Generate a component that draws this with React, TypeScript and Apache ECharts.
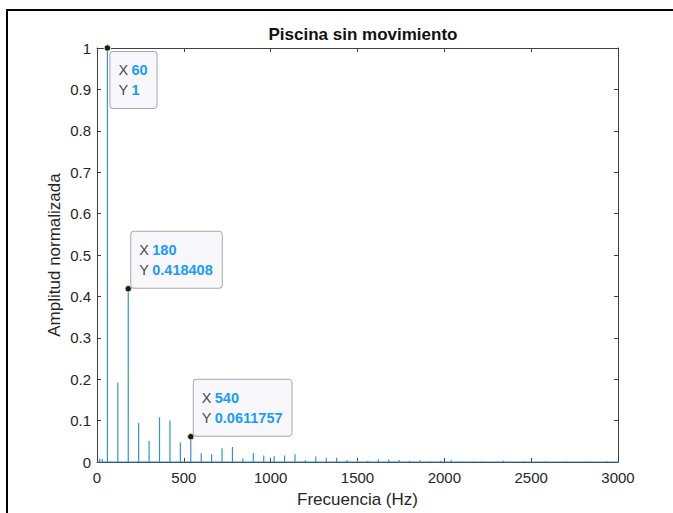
import React, { useEffect, useRef } from "react";
import * as echarts from "echarts";

// Spectrum peaks (frequency in Hz, normalized amplitude)
const peakFreqs = [
  15, 30, 60, 120, 180, 240, 300, 360, 420, 480, 540, 600, 660, 720, 780, 840, 900, 960,
  1020, 1080, 1140, 1200, 1260, 1320, 1380, 1440, 1500, 1560, 1620, 1680, 1740, 1800,
  1860, 1920, 1980, 2040, 2100, 2160, 2220, 2340, 2460, 2580, 2700, 2820, 2940,
];
const peakAmps = [
  0.008, 0.007, 1, 0.192, 0.418408, 0.094, 0.051, 0.108, 0.1, 0.047, 0.0611757, 0.021,
  0.019, 0.033, 0.036, 0.009, 0.022, 0.016, 0.014, 0.016, 0.019, 0.004, 0.013, 0.01, 0.01,
  0.005, 0.004, 0.003, 0.006, 0.006, 0.005, 0.003, 0.004, 0.002, 0.003, 0.004, 0.002,
  0.002, 0.002, 0.003, 0.002, 0.002, 0.002, 0.002, 0.002,
];

// Data tips
const tipX = [60, 180, 540];
const tipY = [1, 0.418408, 0.0611757];
const tipSide = ["below", "above", "above"];

const xTicks = { min: 0, max: 3000, interval: 500 };
const yTicks = { min: 0, max: 1, interval: 0.1 };

const FONT = "'Liberation Sans', Arial, Helvetica, sans-serif";
const AXIS_COLOR = "#404040";
const TEXT_COLOR = "#262626";

export default function App() {
  const ref = useRef<HTMLDivElement>(null);

  useEffect(() => {
    document.body.style.margin = "0";
    if (!ref.current) return;
    const chart = echarts.init(ref.current, null, { renderer: "svg" });

    // Spike trace: baseline with a vertical excursion at each peak
    const trace: number[][] = [[xTicks.min, 0]];
    peakFreqs.forEach((f, i) => {
      trace.push([f, 0], [f, peakAmps[i]], [f, 0]);
    });
    trace.push([xTicks.max, 0]);

    const axisCommon = {
      axisLine: { show: true, onZero: false, lineStyle: { color: AXIS_COLOR, width: 1 } },
      axisTick: { show: true, inside: true, length: 4, lineStyle: { color: AXIS_COLOR } },
      splitLine: { show: false },
    };

    chart.setOption({
      animation: false,
      backgroundColor: "#ffffff",
      title: {
        text: "Piscina sin movimiento",
        left: 358,
        top: 21,
        textAlign: "center",
        textStyle: { fontFamily: FONT, fontSize: 17, fontWeight: "bold", color: "#111" },
      },
      grid: { left: 97, right: 55, top: 48, bottom: 50, containLabel: false },
      xAxis: [
        {
          type: "value",
          ...xTicks,
          position: "bottom",
          ...axisCommon,
          name: "Frecuencia (Hz)",
          nameLocation: "middle",
          nameGap: 29,
          nameMoveOverlap: false,
          nameTextStyle: { fontFamily: FONT, fontSize: 17, color: TEXT_COLOR },
          axisLabel: {
            fontFamily: FONT,
            fontSize: 15,
            color: TEXT_COLOR,
            margin: 8,
            formatter: (v: number) => String(v),
          },
        },
        {
          type: "value",
          ...xTicks,
          position: "top",
          ...axisCommon,
          axisLabel: { show: false },
        },
      ],
      yAxis: [
        {
          type: "value",
          ...yTicks,
          position: "left",
          ...axisCommon,
          name: "Amplitud normalizada",
          nameLocation: "middle",
          nameGap: 34,
          nameMoveOverlap: false,
          nameTextStyle: { fontFamily: FONT, fontSize: 17, color: TEXT_COLOR },
          axisLabel: { fontFamily: FONT, fontSize: 15, color: TEXT_COLOR, margin: 6 },
        },
        {
          type: "value",
          ...yTicks,
          position: "right",
          ...axisCommon,
          axisLabel: { show: false },
        },
      ],
      series: [
        {
          type: "line",
          data: trace,
          showSymbol: false,
          lineStyle: { color: "#3592d6", width: 1.2 },
          itemStyle: { color: "#3592d6" },
        },
      ],
    });

    // Data tips placed from data coordinates
    const graphics: any[] = [
      { type: "line", shape: { x1: 6, y1: 10, x2: 673, y2: 10 }, style: { stroke: "#000", lineWidth: 2 } },
      { type: "line", shape: { x1: 7, y1: 10, x2: 7, y2: 513 }, style: { stroke: "#000", lineWidth: 2 } },
    ];
    tipX.forEach((xv, i) => {
      const [px, py] = chart.convertToPixel({ gridIndex: 0 }, [xv, tipY[i]]) as number[];
      const below = tipSide[i] === "below";
      graphics.push({
        type: "text",
        z: 100,
        x: px + 3,
        y: below ? py + 4 : py - 1,
        style: {
          text: `{k|X} {v|${xv}}\n{k|Y} {v|${tipY[i]}}`,
          align: "left",
          verticalAlign: below ? "top" : "bottom",
          backgroundColor: "#f8f8fc",
          borderColor: "#a8a8a8",
          borderWidth: 1,
          borderRadius: 3,
          padding: [8, 9, 8, 8],
          rich: {
            k: { fontFamily: FONT, fontSize: 14.5, fill: "#4a4a4a", lineHeight: 20 },
            v: { fontFamily: FONT, fontSize: 14.5, fontWeight: "bold", fill: "#1a9bff", lineHeight: 20 },
          },
        },
      });
      graphics.push({
        type: "circle",
        z: 101,
        shape: { cx: px, cy: py, r: 3.2 },
        style: { fill: "#1a1a1a", stroke: "#e8e0a0", lineWidth: 1 },
      });
    });
    chart.setOption({ graphic: graphics });

    return () => chart.dispose();
  }, []);

  return <div ref={ref} style={{ width: 673, height: 513 }} />;
}
